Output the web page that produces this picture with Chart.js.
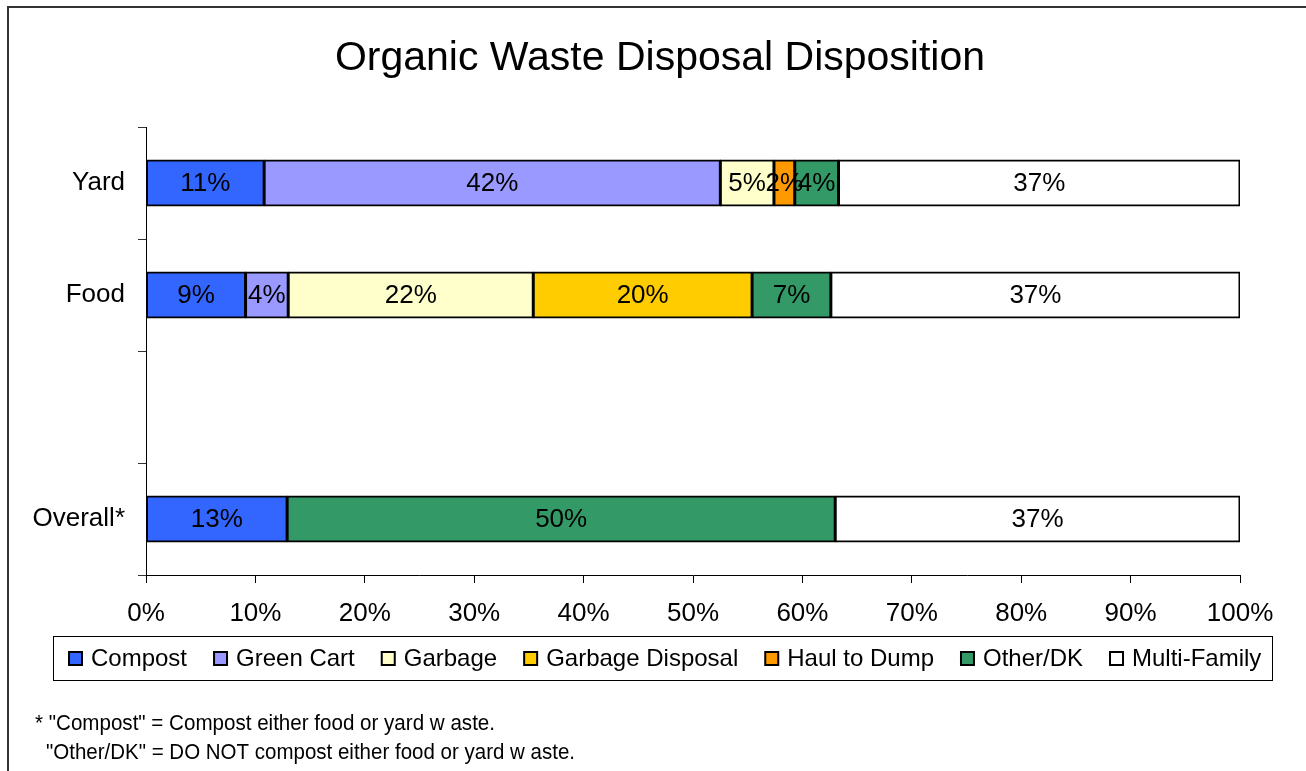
<!DOCTYPE html>
<html>
<head>
<meta charset="utf-8">
<script src="https://cdn.jsdelivr.net/npm/chart.js@4/dist/chart.umd.min.js"></script>
<style>
  html, body { margin: 0; padding: 0; background: #fff; }
  #wrap { width: 1306px; height: 771px; position: relative; }
</style>
</head>
<body>
<div id="wrap"><canvas id="chart"></canvas></div>
<script>
const categories = ['Yard', 'Food', '', 'Overall*'];
const seriesNames = ['Compost', 'Green Cart', 'Garbage', 'Garbage Disposal', 'Haul to Dump', 'Other/DK', 'Multi-Family'];
const compost = [10.8, 9.1, null, 12.9];
const greenCart = [41.7, 3.9, null, null];
const garbage = [4.9, 22.4, null, null];
const garbageDisposal = [null, 20.0, null, null];
const haulToDump = [1.9, null, null, null];
const otherDK = [4.0, 7.2, null, 50.1];
const multiFamily = [36.7, 37.4, null, 37.0];
const xTicks = [0, 10, 20, 30, 40, 50, 60, 70, 80, 90, 100];

const colors = ['#3366FF', '#9999FF', '#FFFFCC', '#FFCC00', '#FF9900', '#339966', '#FFFFFF'];
const series = [compost, greenCart, garbage, garbageDisposal, haulToDump, otherDK, multiFamily];

const FONT = '"Liberation Sans", Arial, sans-serif';

// frame, title, legend box, footnotes, segment labels
const decor = {
  id: 'decor',
  beforeDraw(chart) {
    const ctx = chart.ctx;
    ctx.save();
    ctx.fillStyle = '#fff';
    ctx.fillRect(0, 0, chart.width, chart.height);
    ctx.strokeStyle = '#333';
    ctx.lineWidth = 2;
    ctx.strokeRect(8, 7, 1330, 820);
    ctx.restore();
  },
  afterDraw(chart) {
    const ctx = chart.ctx;
    ctx.save();

    // title
    ctx.fillStyle = '#000';
    ctx.font = '41px ' + FONT;
    ctx.textAlign = 'center';
    ctx.textBaseline = 'middle';
    ctx.fillText('Organic Waste Disposal Disposition', 660, 59);

    // value labels
    ctx.font = '26px ' + FONT;
    chart.data.datasets.forEach((ds, i) => {
      const meta = chart.getDatasetMeta(i);
      meta.data.forEach((bar, j) => {
        const v = ds.data[j];
        if (v == null) return;
        const cx = (bar.x + bar.base) / 2;
        ctx.fillText(Math.round(v) + '%', cx, bar.y + 1);
      });
    });

    // legend
    ctx.strokeStyle = '#000';
    ctx.lineWidth = 1;
    ctx.strokeRect(53.5, 636.5, 1219, 44);
    ctx.font = '24px ' + FONT;
    ctx.textAlign = 'left';
    let x = 69;
    chart.data.datasets.forEach((ds) => {
      ctx.fillStyle = ds.backgroundColor;
      ctx.fillRect(x, 652, 13, 13);
      ctx.strokeStyle = '#000';
      ctx.lineWidth = 2;
      ctx.strokeRect(x, 652, 13, 13);
      ctx.fillStyle = '#000';
      ctx.fillText(ds.label, x + 22, 659);
      x += 22 + ctx.measureText(ds.label).width + 27;
    });

    // footnotes (condensed to the width they take in the original)
    ctx.font = '22px ' + FONT;
    const notes = [
      ['* "Compost" = Compost either food or yard w aste.', 35, 724, 460],
      ['"Other/DK" = DO NOT compost either food or yard w aste.', 46, 753, 529]
    ];
    notes.forEach(([t, nx, ny, w]) => {
      const m = ctx.measureText(t).width;
      ctx.save();
      ctx.translate(nx, ny);
      ctx.scale(w / m, 1);
      ctx.fillText(t, 0, 0);
      ctx.restore();
    });

    ctx.restore();
  }
};

new Chart(document.getElementById('chart'), {
  type: 'bar',
  data: {
    labels: categories,
    datasets: seriesNames.map((name, i) => ({
      label: name,
      data: series[i],
      backgroundColor: colors[i],
      borderColor: '#000',
      borderWidth: 2,
      borderSkipped: false,
      inflateAmount: 0.5,
      categoryPercentage: 1,
      barPercentage: 0.41
    }))
  },
  options: {
    indexAxis: 'y',
    responsive: true,
    maintainAspectRatio: false,
    animation: false,
    layout: { padding: { left: 0, top: 127, right: 66, bottom: 136 } },
    plugins: {
      legend: { display: false },
      title: { display: false },
      tooltip: { enabled: false }
    },
    scales: {
      x: {
        stacked: true,
        min: 0,
        max: 100,
        afterFit: (s) => { s.height = 60; },
        afterBuildTicks: (s) => { s.ticks = xTicks.map((v) => ({ value: v })); },
        grid: { drawOnChartArea: false, tickLength: 8, color: '#000' },
        border: { color: '#000', width: 1 },
        ticks: {
          padding: 15,
          color: '#000',
          font: { family: FONT, size: 26 },
          callback: (v) => v + '%'
        }
      },
      y: {
        stacked: true,
        afterFit: (s) => { s.width = 146; },
        grid: { drawOnChartArea: false, offset: true, tickLength: 8, color: '#333' },
        border: { color: '#000', width: 1 },
        ticks: {
          padding: 13,
          color: '#000',
          font: { family: FONT, size: 26 }
        }
      }
    }
  },
  plugins: [decor]
});
</script>
</body>
</html>
